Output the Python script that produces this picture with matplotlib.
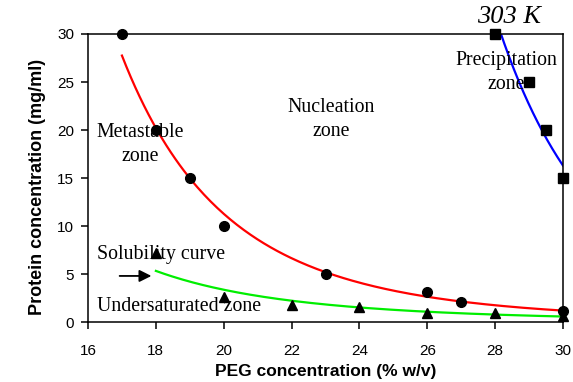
import numpy as np
import matplotlib
matplotlib.use('Agg')
import matplotlib.pyplot as plt

# metastable limit (circles)
peg_meta = [17, 18, 19, 20, 23, 26, 27, 30]
prot_meta = [30, 20, 15, 10, 5, 3.1, 2.05, 1.15]

# solubility (triangles)
peg_sol = [18, 20, 22, 24, 26, 28, 30]
prot_sol = [7.2, 2.65, 1.8, 1.6, 0.97, 0.9, 0.6]

# precipitation (squares)
peg_prec = [28, 29, 29.5, 30]
prot_prec = [30, 25, 20, 15]


def power_fit(x, y, x0, x1):
    # power-law trendline, fitted in log-log space
    b, a = np.polyfit(np.log(x), np.log(y), 1)
    xs = np.linspace(x0, x1, 200)
    return xs, np.exp(a) * xs ** b


serif = ['Liberation Serif', 'DejaVu Serif']
sans = ['Liberation Sans', 'DejaVu Sans']

fig = plt.figure(figsize=(5.73, 3.82), dpi=100)
ax = fig.add_axes([0.1536, 0.157, 0.829, 0.754])

# trendlines
xs, ys = power_fit(peg_meta, prot_meta, 17, 30)
ax.plot(xs, ys, color='#ff0000', lw=1.6, zorder=2)
xs, ys = power_fit(peg_sol, prot_sol, 18, 30)
ax.plot(xs, ys, color='#00ee00', lw=1.6, zorder=2)
xs, ys = power_fit(peg_prec, prot_prec, 28, 30)
ax.plot(xs, ys, color='#0000ff', lw=1.6, zorder=2)

# data points
ax.plot(peg_meta, prot_meta, 'o', color='black', ms=7, clip_on=False, zorder=3)
ax.plot(peg_sol, prot_sol, '^', color='black', ms=7, clip_on=False, zorder=3)
ax.plot(peg_prec, prot_prec, 's', color='black', ms=6.5, clip_on=False, zorder=3)

ax.set_xlim(16, 30)
ax.set_ylim(0, 30)
ax.set_xticks(range(16, 31, 2))
ax.set_yticks(range(0, 31, 5))
ax.tick_params(direction='out', length=5, width=1.1, labelsize=11)
ax.tick_params(axis='x', pad=11)
ax.tick_params(axis='y', pad=5)
for lab in ax.get_xticklabels() + ax.get_yticklabels():
    lab.set_family(sans)
for s in ax.spines.values():
    s.set_linewidth(1.1)

ax.set_xlabel('PEG concentration (% w/v)', family=sans, fontsize=12.5,
              fontweight='bold', labelpad=4)
ax.set_ylabel('Protein concentration (mg/ml)', family=sans, fontsize=13,
              fontweight='bold', labelpad=5)
ax.yaxis.set_label_coords(-0.088, 0.47)

# zone labels
tkw = dict(family=serif, fontsize=14.3, ha='center', va='center',
           linespacing=1.4, zorder=4)
ax.text(17.53, 18.5, 'Metastable\nzone', **tkw)
ax.text(23.17, 21.1, 'Nucleation\nzone', **tkw)
ax.text(28.33, 26.0, 'Precipitation\nzone', **tkw)
ax.text(16.27, 7.0, 'Solubility curve', family=serif, fontsize=14.3,
        ha='left', va='center', zorder=4)
ax.text(16.27, 1.6, 'Undersaturated zone', family=serif, fontsize=14.3,
        ha='left', va='center', zorder=4)
ax.annotate('', xy=(17.95, 4.8), xytext=(16.85, 4.8),
            arrowprops=dict(arrowstyle='-|>', color='black', lw=1.3,
                            mutation_scale=18))

fig.text(0.889, 0.955, '303 K', family=serif, style='italic', fontsize=19,
         ha='center', va='center')

fig.savefig('out.png', dpi=100)
